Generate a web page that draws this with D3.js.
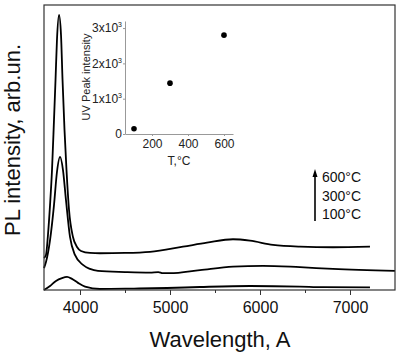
<!DOCTYPE html>
<html>
<head>
<meta charset="utf-8">
<script src="https://cdn.jsdelivr.net/npm/d3@7"></script>
<style>
body { margin: 0; background: #fff; }
svg { display: block; font-family: Arial, "Liberation Sans", sans-serif; }
</style>
</head>
<body>
<script>
const width = 400
const height = 353

// PL spectra, [wavelength (A), intensity (arb.un.)]
const spec600 = [[3600,11.2],[3622,12.3],[3644,19.3],[3667,29.8],[3689,42.1],[3711,59.6],[3728,73.7],[3744,87.7],[3767,96.5],[3789,89.5],[3806,73.7],[3828,56.1],[3850,42.1],[3878,28.1],[3922,18.6],[3967,15.1],[4011,13.7],[4111,13.0],[4222,12.9],[4500,13.0],[4778,13.4],[5144,15.2],[5411,16.6],[5700,17.8],[5889,17.3],[6144,15.8],[6444,15.2],[6811,15.0],[7222,15.2]]
const spec300 = [[3600,7.7],[3622,9.8],[3667,17.5],[3711,29.8],[3744,41.4],[3778,46.7],[3811,42.1],[3844,31.6],[3889,18.6],[3944,12.3],[4033,8.8],[4111,7.4],[4200,6.7],[4500,6.3],[4778,6.1],[4870,6.3],[4920,5.9],[5000,5.9],[5333,7.0],[5700,8.2],[6033,8.5],[6444,8.0],[6811,7.4],[7500,6.7]]
const spec100 = [[3600,0],[3667,1.4],[3733,3.2],[3800,4.2],[3856,4.6],[3911,3.9],[3978,2.5],[4056,1.2],[4222,0.35],[4600,0.5],[4967,0.7],[5333,1.05],[5889,1.4],[6444,1.2],[6700,1.0],[7222,0.95]]

const xMajor = [4000, 5000, 6000, 7000]
const xMinor = [4500, 5500, 6500]
const legendLabels = ['600°C', '300°C', '100°C']

// inset: UV peak intensity vs annealing temperature
const temps = [100, 300, 600]
const uvPeak = [150, 1440, 2800]
const insetYTicks = [0, 1000, 2000, 3000]
const insetXTicks = [200, 400, 600]

const svg = d3.select('body').append('svg')
	.attr('width', width)
	.attr('height', height)

const x = d3.scaleLinear().domain([3600, 7500]).range([44, 395])
const y = d3.scaleLinear().domain([0, 100]).range([290, 5])

// spectra
const line = d3.line()
	.x(d => x(d[0]))
	.y(d => y(d[1]))
	.curve(d3.curveMonotoneX)

svg.selectAll('.spec')
	.data([spec600, spec300, spec100])
	.enter().append('path')
	.attr('class', 'spec')
	.attr('d', line)
	.attr('fill', 'none')
	.attr('stroke', '#000')
	.attr('stroke-width', 1.8)

// frame
svg.append('rect')
	.attr('x', x.range()[0])
	.attr('y', y.range()[1])
	.attr('width', x.range()[1] - x.range()[0])
	.attr('height', y.range()[0] - y.range()[1])
	.attr('fill', 'none')
	.attr('stroke', '#333')
	.attr('stroke-width', 1.2)

// bottom axis
const gx = svg.append('g')
	.attr('transform', `translate(0,${y.range()[0]})`)
	.call(d3.axisBottom(x).tickValues(xMajor).tickSize(5).tickPadding(7).tickFormat(d3.format('d')))
gx.select('.domain').remove()
gx.selectAll('line').attr('stroke', '#333')
gx.selectAll('text').attr('font-size', 16).attr('fill', '#111')

const gxm = svg.append('g')
	.attr('transform', `translate(0,${y.range()[0]})`)
	.call(d3.axisBottom(x).tickValues(xMinor).tickSize(3).tickFormat(''))
gxm.select('.domain').remove()
gxm.selectAll('line').attr('stroke', '#333')

svg.append('text')
	.attr('x', 220)
	.attr('y', 347)
	.attr('text-anchor', 'middle')
	.attr('font-size', 22)
	.attr('fill', '#111')
	.text('Wavelength, A')

svg.append('text')
	.attr('transform', 'translate(20,140) rotate(-90)')
	.attr('text-anchor', 'middle')
	.attr('font-size', 22)
	.attr('fill', '#111')
	.text('PL intensity, arb.un.')

// legend with arrow
svg.append('line')
	.attr('x1', 315).attr('x2', 315)
	.attr('y1', 221).attr('y2', 175)
	.attr('stroke', '#000')
	.attr('stroke-width', 1.6)
svg.append('path')
	.attr('d', 'M315,169 L312.5,177 L317.5,177 Z')
	.attr('fill', '#000')

svg.selectAll('.leg')
	.data(legendLabels)
	.enter().append('text')
	.attr('class', 'leg')
	.attr('x', 322)
	.attr('y', (d, i) => 182 + i * 18.5)
	.attr('font-size', 14)
	.attr('fill', '#111')
	.text(d => d)

// inset
const ix = d3.scaleLinear().domain([50, 650]).range([125, 233])
const iy = d3.scaleLinear().domain([0, 3200]).range([134, 21])

const gix = svg.append('g')
	.attr('transform', `translate(0,${iy.range()[0]})`)
	.call(d3.axisBottom(ix).tickValues(insetXTicks).tickSizeInner(2).tickSizeOuter(0).tickPadding(3))
gix.select('.domain').attr('stroke', '#999')
gix.selectAll('line').attr('stroke', '#999')
gix.selectAll('text').attr('font-size', 12).attr('fill', '#222')

const giy = svg.append('g')
	.attr('transform', `translate(${ix.range()[0]},0)`)
	.call(d3.axisLeft(iy).tickValues(insetYTicks).tickSizeInner(2).tickSizeOuter(0).tickPadding(1).tickFormat(''))
giy.select('.domain').attr('stroke', '#999')
giy.selectAll('line').attr('stroke', '#999')
giy.selectAll('.tick text').each(function (d) {
	const t = d3.select(this).attr('font-size', 12).attr('fill', '#222')
	if (d === 0) { t.text('0'); return }
	t.append('tspan').text(`${d / 1000}x10`)
	t.append('tspan').attr('font-size', 7).attr('dy', -5).text('3')
})

svg.selectAll('.dot')
	.data(temps.map((t, i) => [t, uvPeak[i]]))
	.enter().append('circle')
	.attr('class', 'dot')
	.attr('cx', d => ix(d[0]))
	.attr('cy', d => iy(d[1]))
	.attr('r', 2.8)
	.attr('fill', '#000')

svg.append('text')
	.attr('x', 179)
	.attr('y', 165)
	.attr('text-anchor', 'middle')
	.attr('font-size', 12)
	.attr('fill', '#222')
	.text('T,°C')

svg.append('text')
	.attr('transform', 'translate(90,77) rotate(-90)')
	.attr('text-anchor', 'middle')
	.attr('font-size', 11)
	.attr('fill', '#222')
	.text('UV Peak intensity')
</script>
</body>
</html>
